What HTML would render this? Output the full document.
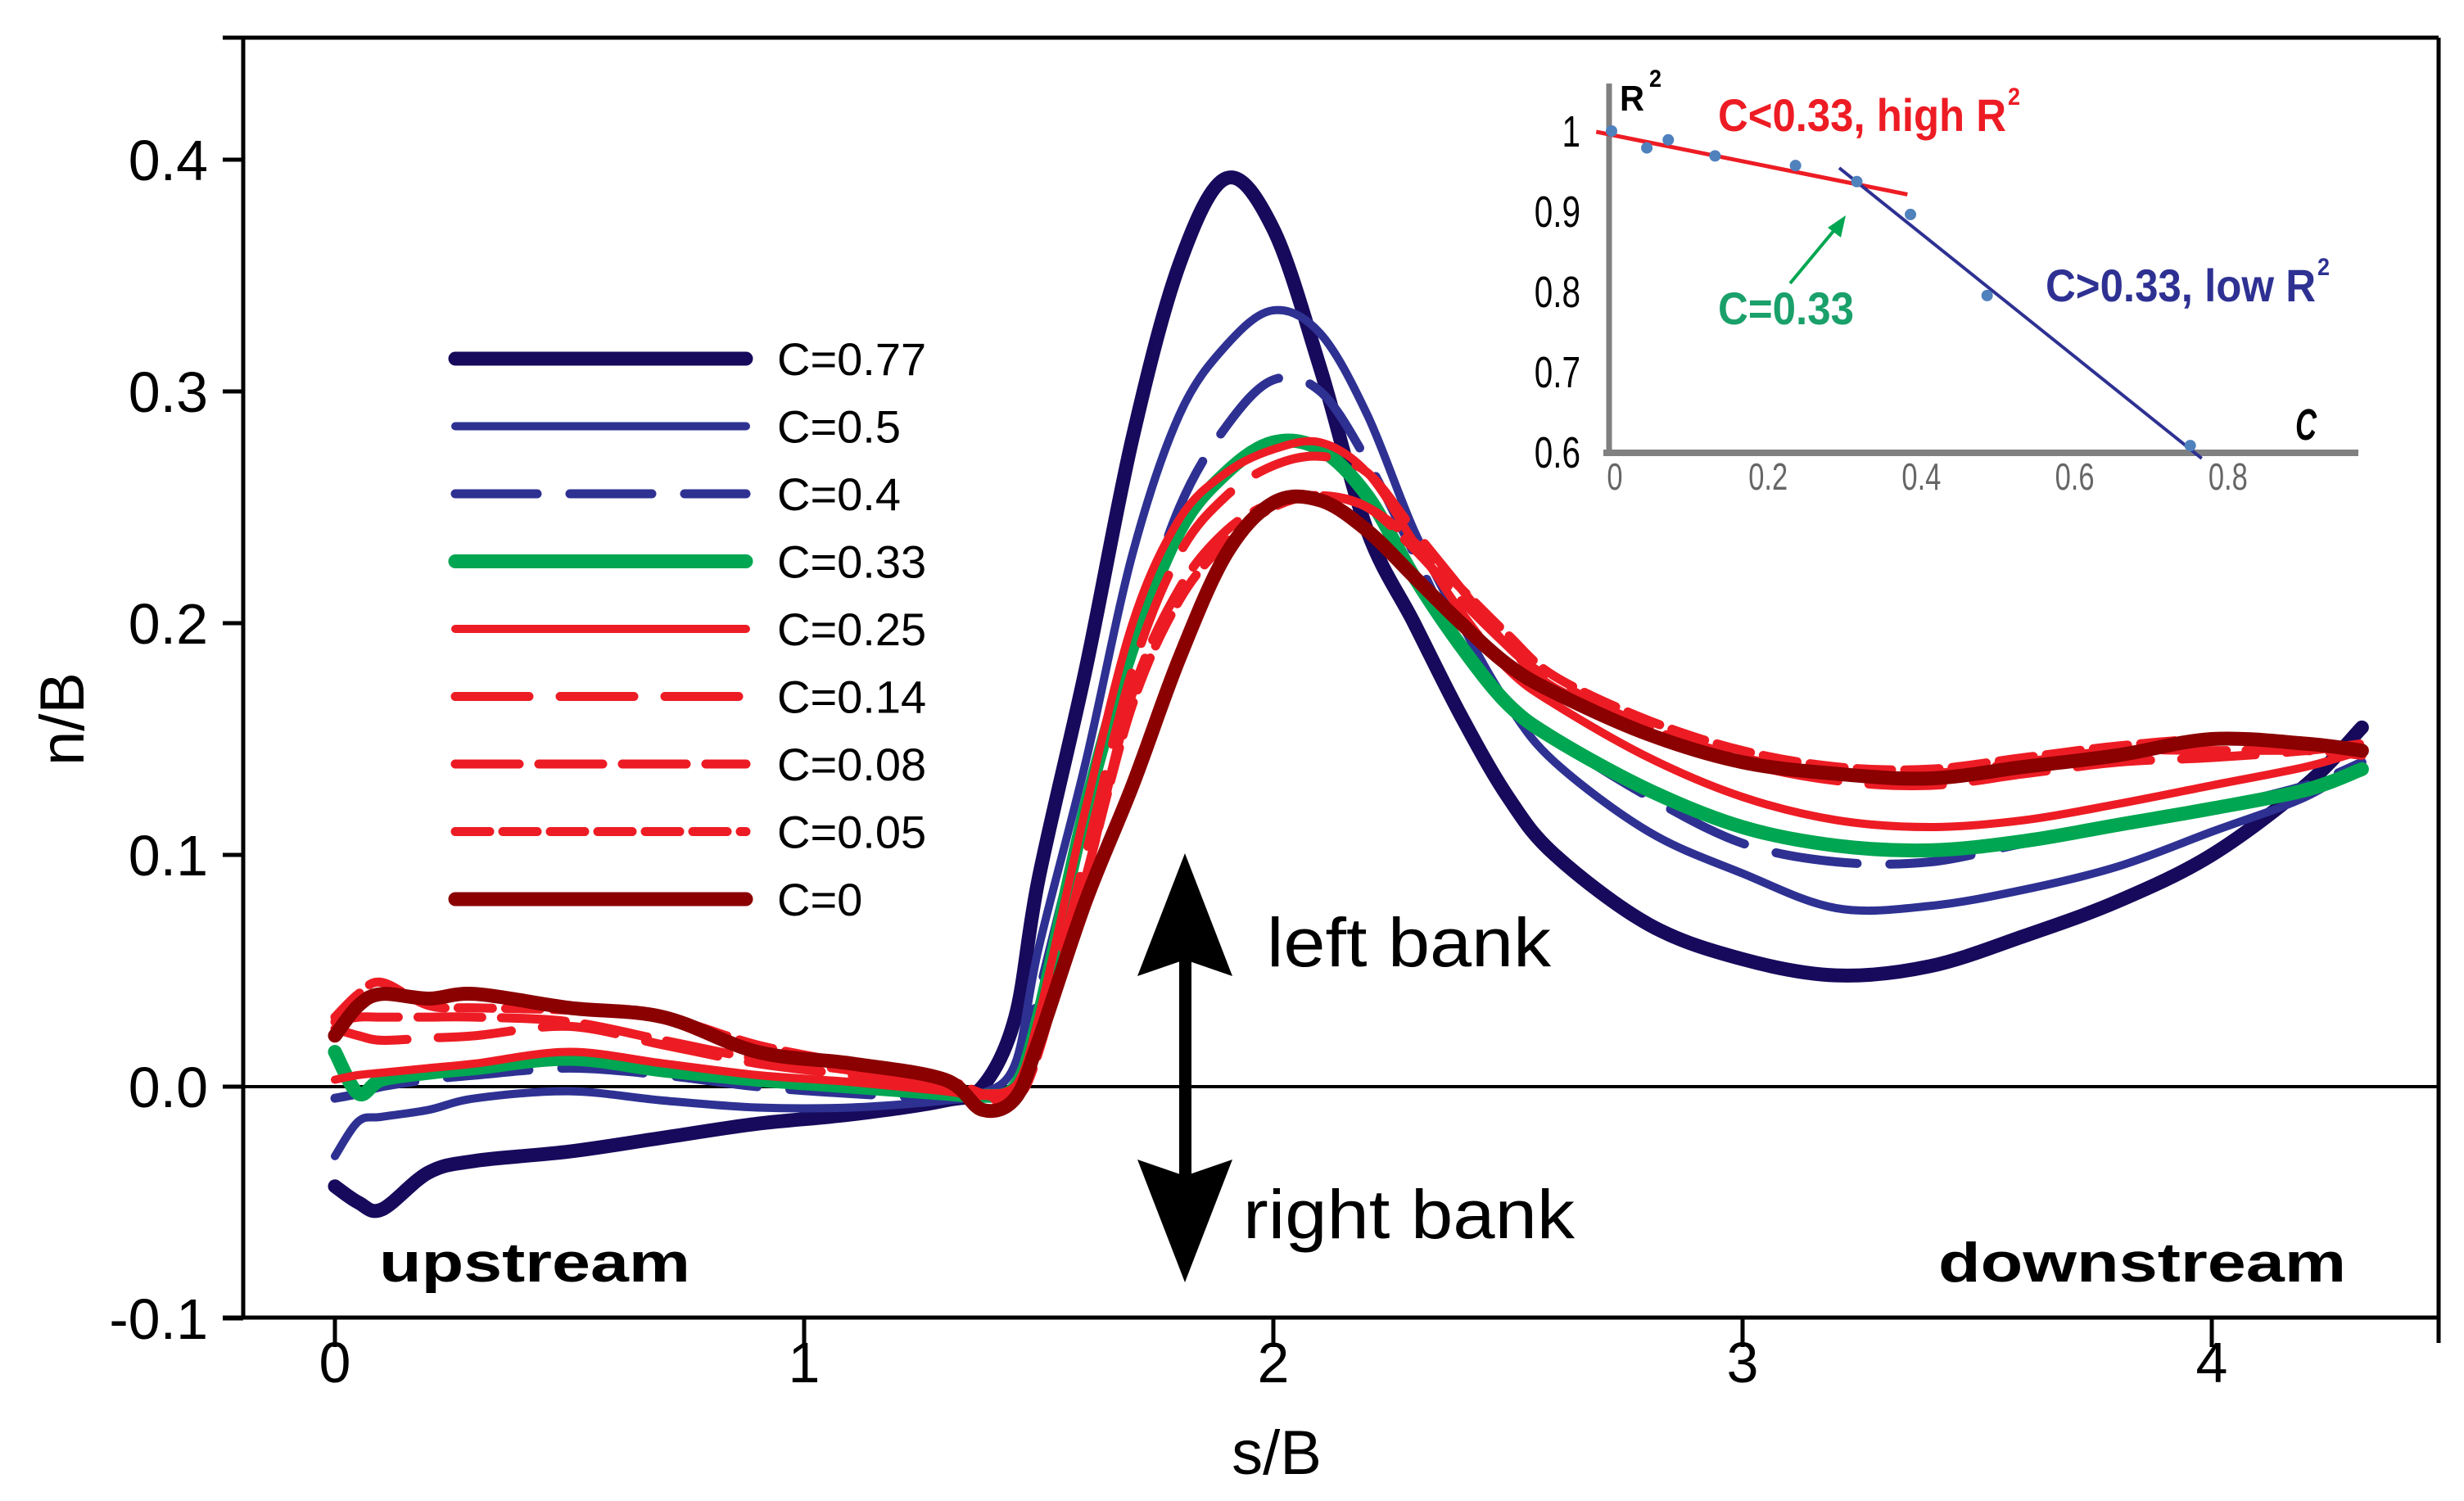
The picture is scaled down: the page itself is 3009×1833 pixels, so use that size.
<!DOCTYPE html>
<html><head><meta charset="utf-8"><style>
html,body{margin:0;padding:0;background:#fff;}
svg{display:block;font-family:"Liberation Sans",Arial,sans-serif;}
</style></head><body>
<svg id="chart" width="3009" height="1833" viewBox="0 0 3009 1833" xmlns="http://www.w3.org/2000/svg">
<rect width="3009" height="1833" fill="#fff"/>
<g id="frame" stroke="#000" stroke-width="5" fill="none">
<line x1="272" y1="46" x2="2978" y2="46"/>
<line x1="297" y1="46" x2="297" y2="1609"/>
<line x1="272" y1="1609" x2="2978" y2="1609"/>
<line x1="2978" y1="46" x2="2978" y2="1640"/>
</g>
<g id="yaxis"></g>
<g id="xaxis"></g>
<text x="1559" y="1800" font-size="76" text-anchor="middle">s/B</text>
<text transform="translate(102,878) rotate(-90)" font-size="76" text-anchor="middle">n/B</text>
<line x1="297" y1="1327" x2="2978" y2="1327" stroke="#000" stroke-width="4"/>
<g id="series"></g>
<g id="legend"></g>
<g fill="#000">
<rect x="1440" y="1150" width="15" height="320"/>
<polygon points="1447,1042 1505,1192 1447,1172 1389,1192"/>
<polygon points="1447,1566 1505,1416 1447,1436 1389,1416"/>
</g>
<text x="1547" y="1180" font-size="84" textLength="347" lengthAdjust="spacingAndGlyphs">left bank</text>
<text x="1518" y="1512" font-size="84" textLength="405" lengthAdjust="spacingAndGlyphs">right bank</text>
<text x="463" y="1565" font-size="68" font-weight="bold" textLength="380" lengthAdjust="spacingAndGlyphs">upstream</text>
<text x="2367" y="1565" font-size="68" font-weight="bold" textLength="498" lengthAdjust="spacingAndGlyphs">downstream</text>
<g id="inset"></g>
</svg>
<script>
const NS="http://www.w3.org/2000/svg";
// main chart data
const sGrid=[0,0.05,0.1,0.2,0.3,0.5,0.7,0.9,1.1,1.3,1.38,1.45,1.5,1.6,1.7,1.8,1.9,2.0,2.1,2.2,2.3,2.4,2.5,2.6,2.8,3.0,3.2,3.4,3.6,3.8,4.0,4.2,4.32];
const seriesNames=["C=0.77","C=0.5","C=0.4","C=0.33","C=0.25","C=0.14","C=0.08","C=0.05","C=0"];
const vC077=[-0.043,-0.05,-0.053,-0.037,-0.032,-0.028,-0.022,-0.016,-0.012,-0.006,0.0,0.03,0.09,0.18,0.28,0.355,0.392,0.37,0.31,0.24,0.20,0.16,0.125,0.10,0.07,0.055,0.048,0.052,0.065,0.08,0.10,0.13,0.155];
const vC05=[-0.03,-0.015,-0.013,-0.01,-0.005,-0.002,-0.006,-0.009,-0.009,-0.006,-0.003,0.01,0.06,0.14,0.23,0.29,0.32,0.335,0.325,0.29,0.24,0.2,0.165,0.14,0.11,0.092,0.077,0.078,0.085,0.095,0.11,0.125,0.14];
const vC04=[-0.005,-0.003,0.0,0.003,0.005,0.008,0.005,0.0,-0.003,-0.005,-0.004,0.0,0.04,0.12,0.19,0.25,0.285,0.305,0.3,0.27,0.23,0.19,0.165,0.15,0.125,0.105,0.097,0.097,0.105,0.112,0.12,0.13,0.14];
const vC033=[0.015,-0.003,0.003,0.006,0.008,0.012,0.007,0.003,0.0,-0.003,-0.004,0.0,0.03,0.12,0.19,0.24,0.265,0.278,0.275,0.255,0.22,0.19,0.165,0.15,0.128,0.112,0.104,0.102,0.106,0.113,0.12,0.128,0.137];
const vC025=[0.003,0.005,0.006,0.008,0.01,0.015,0.01,0.005,0.002,-0.002,-0.004,0.0,0.03,0.12,0.2,0.245,0.265,0.275,0.278,0.265,0.235,0.205,0.18,0.165,0.142,0.125,0.115,0.112,0.115,0.122,0.13,0.138,0.145];
const vC014=[0.025,0.022,0.02,0.021,0.022,0.026,0.018,0.01,0.005,0.0,-0.003,0.0,0.02,0.1,0.18,0.23,0.255,0.268,0.272,0.265,0.24,0.215,0.19,0.175,0.155,0.14,0.132,0.13,0.135,0.14,0.142,0.145,0.148];
const vC008=[0.028,0.03,0.03,0.03,0.03,0.028,0.02,0.012,0.007,0.0,-0.004,-0.005,0.02,0.09,0.17,0.215,0.24,0.252,0.255,0.25,0.232,0.21,0.19,0.172,0.155,0.142,0.135,0.135,0.14,0.145,0.145,0.145,0.143];
const vC005=[0.03,0.04,0.045,0.035,0.034,0.033,0.03,0.018,0.01,0.003,-0.003,-0.005,0.015,0.09,0.165,0.21,0.235,0.25,0.255,0.25,0.235,0.215,0.195,0.177,0.158,0.145,0.138,0.137,0.142,0.147,0.15,0.148,0.145];
const vC0=[0.022,0.035,0.04,0.038,0.04,0.034,0.03,0.015,0.01,0.003,-0.01,-0.005,0.02,0.08,0.13,0.185,0.23,0.252,0.253,0.24,0.22,0.2,0.182,0.17,0.152,0.14,0.135,0.133,0.138,0.143,0.15,0.148,0.145];
const yTicks=[-0.1,0.0,0.1,0.2,0.3,0.4];
const yTickLabels=["-0.1","0.0","0.1","0.2","0.3","0.4"];
const xTicks=[0,1,2,3,4];
const xTickLabels=["0","1","2","3","4"];
// inset data
const insetC=[0,0.046,0.074,0.135,0.24,0.32,0.39,0.49,0.755];
const insetR2=[1.0,0.979,0.989,0.969,0.957,0.937,0.896,0.795,0.608];
const fitLowC=[-0.02,0.386];
const fitLowR=[0.999,0.921];
const fitHighC=[0.297,0.77];
const fitHighR=[0.954,0.592];
const insetYTicks=[0.6,0.7,0.8,0.9,1];
const insetYLabels=["0.6","0.7","0.8","0.9","1"];
const insetXTicks=[0,0.2,0.4,0.6,0.8];
const insetXLabels=["0","0.2","0.4","0.6","0.8"];

const xS=s=>409+573*s;
const yV=v=>1327-2830*v;
const ix=c=>1968+936*c;
const iy=r=>552-980*(r-0.6);

function mk(tag,attrs,parent){const e=document.createElementNS(NS,tag);for(const k in attrs)e.setAttribute(k,attrs[k]);parent.appendChild(e);return e;}

const yax=document.getElementById('yaxis');
yTicks.forEach((t,i)=>{
  const l=mk('line',{x1:272,x2:297,y1:yV(t),y2:yV(t),stroke:'#000','stroke-width':5},yax);
  
  
  const tx=mk('text',{x:254,y:yV(t)+25,'font-size':70,'text-anchor':'end'},yax);
  tx.textContent=yTickLabels[i];
  
  
});
const xax=document.getElementById('xaxis');
xTicks.forEach((t,i)=>{
  const l=mk('line',{x1:xS(t),x2:xS(t),y1:1609,y2:1645,stroke:'#000','stroke-width':5},xax);
  
  
  const tx=mk('text',{x:xS(t),y:1688,'font-size':70,'text-anchor':'middle'},xax);
  tx.textContent=xTickLabels[i];
  
  
});

function smoothPath(xs,ys){
  const p=xs.map((x,i)=>[x,ys[i]]);
  let d=`M${p[0][0]},${p[0][1]}`;
  for(let i=0;i<p.length-1;i++){
    const p0=p[i-1]||p[i],p1=p[i],p2=p[i+1],p3=p[i+2]||p2;
    const c1=[p1[0]+(p2[0]-p0[0])/6,p1[1]+(p2[1]-p0[1])/6];
    const c2=[p2[0]-(p3[0]-p1[0])/6,p2[1]-(p3[1]-p1[1])/6];
    d+=`C${c1[0]},${c1[1]} ${c2[0]},${c2[1]} ${p2[0]},${p2[1]}`;
  }
  return d;
}
const seriesVals=[vC077,vC05,vC04,vC033,vC025,vC014,vC008,vC005,vC0];
const styles=[
 {c:'#170a5c',w:17,d:''},{c:'#2e3192',w:10,d:''},{c:'#2e3192',w:11,d:'100 40'},
 {c:'#00a651',w:17,d:''},{c:'#ed1c24',w:10,d:''},{c:'#ed1c24',w:11,d:'90 38'},
 {c:'#ed1c24',w:11,d:'78 24'},{c:'#ed1c24',w:11,d:'42 16'},{c:'#8b0000',w:17,d:''}];
const drawOrder=[0,1,2,3,4,5,6,7,8];
const sg=document.getElementById('series');
drawOrder.forEach(i=>{
  const st=styles[i];
  const p=mk('path',{d:smoothPath(sGrid.map(xS),seriesVals[i].map(yV)),fill:'none',stroke:st.c,'stroke-width':st.w,'stroke-linecap':'round','stroke-linejoin':'round'},sg);
  if(st.d)p.setAttribute('stroke-dasharray',st.d);
  
  
});
const lg=document.getElementById('legend');
seriesNames.forEach((n,i)=>{
  const y=438+82.5*i, st=styles[i];
  const l=mk('line',{x1:556,x2:911,y1:y,y2:y,stroke:st.c,'stroke-width':st.w,'stroke-linecap':'round'},lg);
  if(st.d)l.setAttribute('stroke-dasharray',st.d);
  
  
  const t=mk('text',{x:949,y:y+20,'font-size':56},lg);
  t.textContent=n;
  
  
});

// inset
const ins=document.getElementById('inset');
const ya=mk('line',{x1:1965,x2:1965,y1:102,y2:556,stroke:'#808080','stroke-width':7},ins);


const xa=mk('line',{x1:1958,x2:2880,y1:553,y2:553,stroke:'#808080','stroke-width':8},ins);


insetYTicks.forEach((t,i)=>{
  const tx=mk('text',{x:1930,y:iy(t)+19,'font-size':54,'text-anchor':'end',transform:`translate(${1930*0.25},0) scale(0.75,1)`},ins);
  tx.textContent=insetYLabels[i];
  
  
});
insetXTicks.forEach((t,i)=>{
  const cx=ix(t)+4;
  const tx=mk('text',{x:cx,y:598,'font-size':46,'text-anchor':'middle',fill:'#666',transform:`translate(${cx*0.25},0) scale(0.75,1)`},ins);
  tx.textContent=insetXLabels[i];
  
  
});
const f1=mk('line',{x1:ix(fitLowC[0]),y1:iy(fitLowR[0]),x2:ix(fitLowC[1]),y2:iy(fitLowR[1]),stroke:'#ed1c24','stroke-width':5},ins);


const f2=mk('line',{x1:ix(fitHighC[0]),y1:iy(fitHighR[0]),x2:ix(fitHighC[1]),y2:iy(fitHighR[1]),stroke:'#2e3192','stroke-width':4},ins);


insetC.forEach((c,i)=>{
  const d=mk('circle',{cx:ix(c),cy:iy(insetR2[i]),r:7,fill:'#4f81bd'},ins);
  
  
});
const ar=mk('line',{x1:2186,y1:346,x2:2245,y2:275,stroke:'#00a651','stroke-width':4},ins);


const ah=mk('polygon',{points:'2254,263 2248,290 2232,278',fill:'#00a651'},ins);


function txt(x,y,size,fill,str,len,name,extra){
  const t=mk('text',Object.assign({x:x,y:y,'font-size':size,fill:fill,'font-weight':'bold',textLength:len,lengthAdjust:'spacingAndGlyphs'},extra||{}),ins);
  t.textContent=str;
  
  
  return t;
}
txt(1978,135,44,'#000','R',30,'inset-y-axis-title');
txt(2014,106,30,'#000','2',15,'inset-y-axis-title-sup');
txt(2098,160,56,'#ed1c24','C<0.33, high R',352,'inset-label-high-r2');
txt(2452,128,30,'#ed1c24','2',15,'inset-label-high-r2-sup');
txt(2098,396,56,'#1aa06a','C=0.33',166,'inset-label-c033');
txt(2498,368,56,'#2e3192','C>0.33, low R',330,'inset-label-low-r2');
txt(2830,336,30,'#2e3192','2',15,'inset-label-low-r2-sup');
txt(2803,537,54,'#000','C',26,'inset-x-axis-title',{'font-style':'italic'});
</script>
</body></html>
